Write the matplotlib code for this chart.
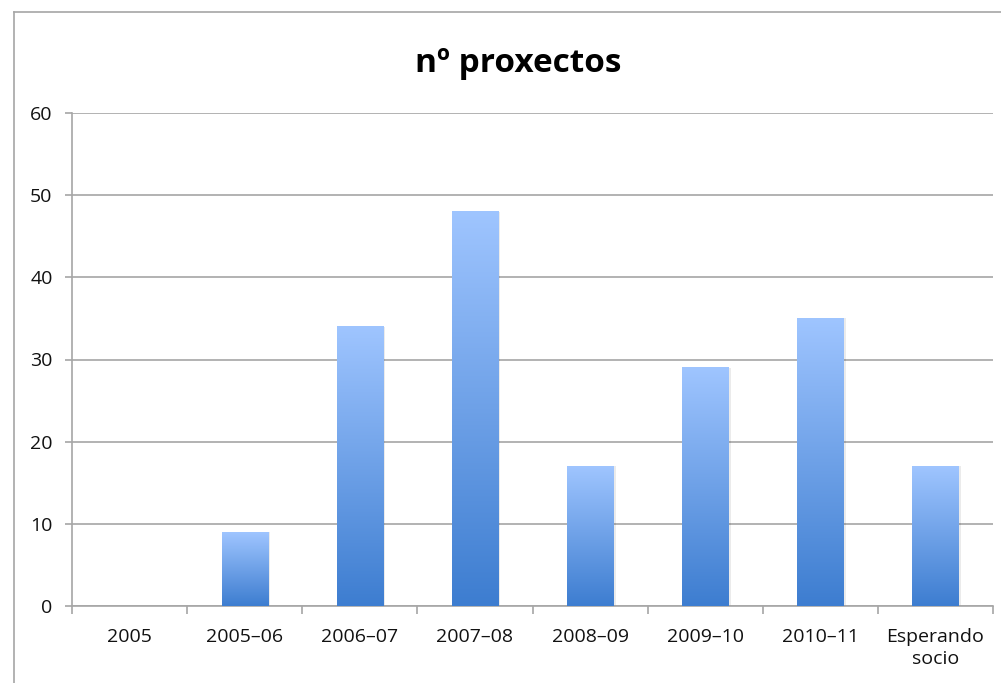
import numpy as np
import matplotlib
matplotlib.use("Agg")
import matplotlib.pyplot as plt
from matplotlib.colors import LinearSegmentedColormap
from matplotlib.lines import Line2D

categories = ["2005", "2005–06", "2006–07", "2007–08", "2008–09", "2009–10", "2010–11", "Esperando\nsocio"]
values = [0, 9, 34, 48, 17, 29, 35, 17]
yticks = [0, 10, 20, 30, 40, 50, 60]
title = "nº proxectos"

plt.rcParams['font.family'] = ['Open Sans', 'DejaVu Sans']

W, H = 1001, 683
fig = plt.figure(figsize=(W / 100, H / 100), dpi=100)
ax = fig.add_axes([72 / W, (H - 606) / H, (993 - 72) / W, (606 - 113) / H])

# outer chart frame (cropped at right and bottom)
fig.add_artist(Line2D([14 / W, 14 / W], [0, 1 - 12 / H], transform=fig.transFigure, color="#a6a6a6", lw=1.2))
fig.add_artist(Line2D([14 / W, 1], [1 - 12 / H, 1 - 12 / H], transform=fig.transFigure, color="#a6a6a6", lw=1.2))

cmap = LinearSegmentedColormap.from_list("g", ["#3d7dd0", "#9fc5ff"])
grad = np.linspace(0, 1, 256).reshape(-1, 1)
bw = 0.4
x = np.arange(len(categories))
for xi, v in zip(x, values):
    if v <= 0:
        continue
    # faint shadow
    ax.bar(xi + 0.012, v, width=bw + 0.02, color="#000000", alpha=0.08, zorder=2, linewidth=0)
    ax.imshow(grad, extent=[xi - bw / 2, xi + bw / 2, 0, v], origin="lower", cmap=cmap,
              aspect="auto", zorder=3, interpolation="bicubic")

ax.set_xlim(-0.5, len(categories) - 0.5)
ax.set_ylim(0, 60)
ax.set_yticks(yticks)
ax.set_yticklabels([str(t) for t in yticks])
ax.yaxis.grid(True, color="#a6a6a6", lw=1.2)
ax.set_axisbelow(True)

ax.set_xticks(np.arange(-0.5, len(categories), 1.0))
ax.set_xticklabels([])
ax.set_xticks(x, minor=True)
ax.set_xticklabels(categories, minor=True, fontsize=14, color="#111111", linespacing=1.3)
ax.tick_params(axis="x", which="minor", length=0, pad=16)
ax.tick_params(axis="x", which="major", length=6, color="#a6a6a6", width=1.2)
ax.tick_params(axis="y", length=5, color="#a6a6a6", width=1.2, labelsize=14, labelcolor="#111111", pad=9)

for s in ["top", "right"]:
    ax.spines[s].set_visible(False)
for s in ["left", "bottom"]:
    ax.spines[s].set_color("#a6a6a6")
    ax.spines[s].set_linewidth(1.2)

fig.text(518 / W, 1 - 64 / H, title, ha="center", va="center", fontsize=24, fontweight="bold", color="#000000")

fig.savefig("out.png", dpi=100)
